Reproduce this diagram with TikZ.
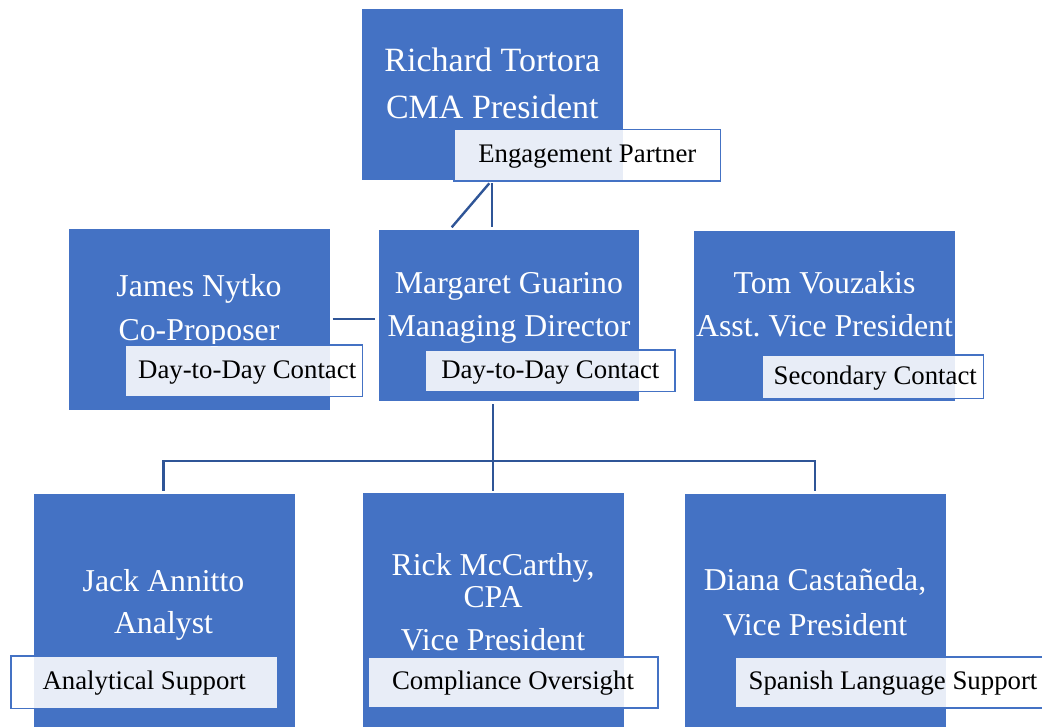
\documentclass[tikz,border=0pt]{standalone}
\usepackage{fontspec}
\setmainfont{Liberation Serif}
\frenchspacing
\definecolor{boxblue}{HTML}{4472C4}
\definecolor{linkblue}{HTML}{2F5597}
\tikzset{
  bx/.style={rectangle, fill=boxblue, draw=none, inner sep=0pt, anchor=north west},
  nametext/.style={text=white, anchor=base, inner sep=0pt, font=\fontsize{31.8}{38}\selectfont},
  bigname/.style={text=white, anchor=base, inner sep=0pt, font=\fontsize{34}{40}\selectfont},
  tag/.style={rectangle, draw=boxblue, line width=1.6pt, fill=white, fill opacity=0.88, text opacity=1,
    text=black, inner sep=0pt, text height=18pt, text depth=3pt,
    font=\fontsize{26.8}{32}\selectfont},
  link/.style={draw=linkblue, line width=2.4pt}
}
\begin{document}
\begin{tikzpicture}[x=1pt,y=-1pt]
\useasboundingbox (0,0) rectangle (1042,726);
\clip (0,0) rectangle (1042,726);
% boxes
\node[bx, minimum width=260.7pt, minimum height=171pt] (rt) at (362,8.3) {};
\node[bx, minimum width=261pt, minimum height=180.3pt] (jn) at (68.3,229) {};
\node[bx, minimum width=260.7pt, minimum height=171pt] (mg) at (378.3,230) {};
\node[bx, minimum width=261pt, minimum height=170pt] (tv) at (693.3,231) {};
\node[bx, minimum width=261pt, minimum height=236pt] (ja) at (33.3,494) {};
\node[bx, minimum width=261.3pt, minimum height=237pt] (rm) at (362.5,493) {};
\node[bx, minimum width=260.7pt, minimum height=236pt] (dc) at (685,494) {};
% box texts
\node[bigname] (rt1) at (492.3,71.7) {Richard Tortora};
\node[bigname] (rt2) at (492.3,118.3) {CMA President};
\node[nametext] (jn1) at (199,296.7) {James Nytko};
\node[nametext] (jn2) at (199,340) {Co-Proposer};
\node[nametext] (mg1) at (509,293.3) {Margaret Guarino};
\node[nametext] (mg2) at (509,336) {Managing Director};
\node[nametext] (tv1) at (824.5,293.3) {Tom Vouzakis};
\node[nametext] (tv2) at (824.5,336) {Asst. Vice President};
\node[nametext] (ja1) at (163.5,591) {Jack Annitto};
\node[nametext] (ja2) at (163.5,633.3) {Analyst};
\node[nametext] (rm1) at (493,575) {Rick McCarthy,};
\node[nametext] (rm2) at (493,607.7) {CPA};
\node[nametext] (rm3) at (493,650) {Vice President};
\node[nametext] (dc1) at (815,590) {Diana Castañeda,};
\node[nametext] (dc2) at (815,635) {Vice President};
% role tags
\node[tag, minimum width=266.7pt, minimum height=51.7pt] (ep) at (587.3,155.2) {Engagement Partner};
\node[tag, minimum width=237.3pt, minimum height=51.7pt] (jnt) at (243.7,370.8) {\hspace*{7pt}Day-to-Day Contact};
\node[tag, minimum width=249.3pt, minimum height=41.7pt] (mgt) at (550.3,370.8) {Day-to-Day Contact};
\node[tag, minimum width=221pt, minimum height=43.3pt] (tvt) at (872.8,376.7) {\hspace*{5pt}Secondary Contact};
\node[tag, minimum width=266.3pt, minimum height=52.6pt] (jat) at (144.2,682) {Analytical Support};
\node[tag, minimum width=289.5pt, minimum height=51pt] (rmt) at (513,682.2) {Compliance Oversight};
\node[tag, minimum width=316pt, minimum height=51pt] (dct) at (893,682.2) {Spanish Language Support};
% connector points
\coordinate (epa) at (491.7,183.3);
\coordinate (epb) at (489.3,183.3);
\coordinate (mga) at (491.7,227.3);
\coordinate (mgb) at (451.7,227.3);
\coordinate (jnr) at (332.7,319);
\coordinate (mgl) at (375,319);
\coordinate (mgd) at (492.7,404);
\coordinate (hub) at (492.7,460.7);
\coordinate (hl) at (163.4,460.7);
\coordinate (hr) at (815,460.7);
\coordinate (jau) at (163.4,490.7);
\coordinate (rmu) at (492.7,490.7);
\coordinate (dcu) at (815,490.7);
% connectors
\draw[link] (epa) -- (mga);
\draw[link] (epb) -- (mgb);
\draw[link] (jnr) -- (mgl);
\draw[link] (mgd) -- (hub);
\draw[link] (jau) -- (hl) -- (hr) -- (dcu);
\draw[link] (hub) -- (rmu);
\end{tikzpicture}
\end{document}
